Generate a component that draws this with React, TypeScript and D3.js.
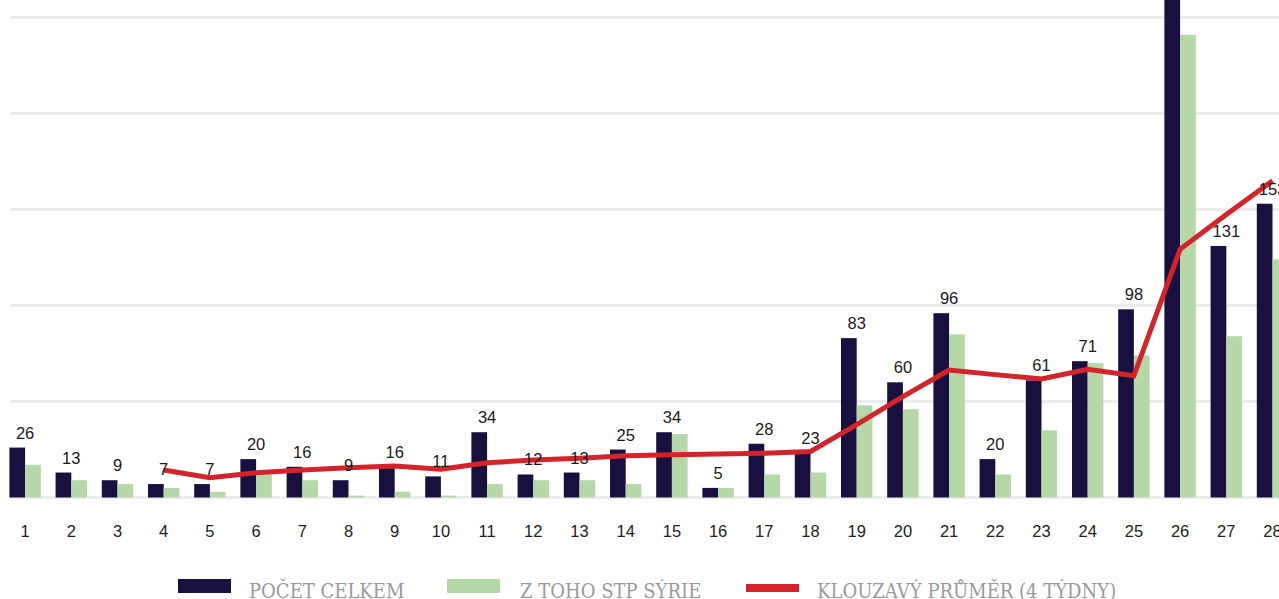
import React from 'react';
import * as d3 from 'd3';

// týdny
const weeks = [
    1, 2, 3, 4, 5, 6, 7, 8, 9, 10, 11, 12, 13, 14,
    15, 16, 17, 18, 19, 20, 21, 22, 23, 24, 25, 26, 27, 28,
];

// počet celkem
const totals = [
    26, 13, 9, 7, 7, 20, 16, 9, 16, 11, 34, 12, 13, 25,
    34, 5, 28, 23, 83, 60, 96, 20, 61, 71, 98, 290, 131, 153,
];

// z toho STP Sýrie
const syria = [
    17, 9, 7, 5, 3, 12, 9, 1, 3, 1, 7, 9, 9, 7,
    33, 5, 12, 13, 48, 46, 85, 12, 35, 70, 74, 241, 84, 124,
];

// klouzavý průměr (4 týdny), od 4. týdne
const avgWeeks = [4, 5, 6, 7, 8, 9, 10, 11, 12, 13, 14, 15, 16, 17, 18, 19, 20, 21, 22, 23, 24, 25, 26, 27, 28];
const avgValues = [
    14.3, 10.3, 12.9, 14.3, 15.5, 16.4, 14.7, 18.1, 19.5, 20.4, 21.8, 22.3, 22.7,
    23, 24, 38, 52.5, 66.4, 64, 61.7, 66.8, 63.4, 129.3, 147.4, 165,
];

const gridTicks = [0, 50, 100, 150, 200, 250];

const legendItems = [
    {label: 'POČET CELKEM', color: '#1a1040', kind: 'bar'},
    {label: 'Z TOHO STP SÝRIE', color: '#b6d7a8', kind: 'bar'},
    {label: 'KLOUZAVÝ PRŮMĚR (4 TÝDNY)', color: '#d4242b', kind: 'line'},
];

const W = 1279;
const H = 599;

export default function App() {
    const x = d3.scaleBand<number>()
        .domain(weeks)
        .range([2, 2 + 28 * 46.2])
        .paddingInner(0.32)
        .paddingOuter(0.16);

    const sub = d3.scaleBand<string>()
        .domain(['total', 'syria'])
        .range([0, x.bandwidth()]);

    const y = d3.scaleLinear().domain([0, 250]).range([497.5, 17.5]);

    const cx = (w: number) => (x(w) ?? 0) + x.bandwidth() / 2;

    const line = d3.line<number>()
        .x((_, i) => cx(avgWeeks[i]))
        .y(d => y(d));

    const legendX = [178, 447, 746];
    const legendTextX = [249, 520, 817];

    return (
        <svg width={W} height={H} style={{position: 'absolute', left: 0, top: 0}}>
            {/* mřížka */}
            {gridTicks.map(t => (
                <line key={t} x1={10} x2={W + 20} y1={y(t)} y2={y(t)}
                      stroke="#ececec" strokeWidth={3}/>
            ))}

            {/* sloupce */}
            {weeks.map((w, i) => (
                <g key={w} transform={`translate(${x(w)},0)`}>
                    <rect x={sub('total')} width={sub.bandwidth()}
                          y={y(totals[i])} height={y(0) - y(totals[i])} fill="#1a1040"/>
                    <rect x={sub('syria')} width={sub.bandwidth()}
                          y={y(syria[i])} height={y(0) - y(syria[i])} fill="#b6d7a8"/>
                </g>
            ))}

            {/* klouzavý průměr */}
            <path d={line(avgValues) ?? ''} fill="none" stroke="#d4242b" strokeWidth={5}
                  strokeLinejoin="miter"/>

            {/* popisky hodnot */}
            {weeks.map((w, i) => (
                <text key={w} x={cx(w)} y={y(totals[i]) - 9} textAnchor="middle"
                      fontFamily="'Liberation Sans', Arial, sans-serif" fontSize={16.5} fill="#1a1a1a">
                    {totals[i]}
                </text>
            ))}

            {/* osa x */}
            {weeks.map(w => (
                <text key={w} x={cx(w)} y={537} textAnchor="middle"
                      fontFamily="'Liberation Sans', Arial, sans-serif" fontSize={16.5} fill="#222">
                    {w}
                </text>
            ))}

            {/* legenda */}
            {legendItems.map((item, i) => (
                <g key={item.label}>
                    {item.kind === 'bar'
                        ? <rect x={legendX[i]} y={579} width={53} height={14} fill={item.color}/>
                        : <rect x={legendX[i]} y={584} width={53} height={8} fill={item.color}/>}
                    <text x={legendTextX[i]} y={598}
                          fontFamily="'DejaVu Serif Condensed', 'DejaVu Serif', serif"
                          fontSize={20} fill="#999">
                        {item.label}
                    </text>
                </g>
            ))}
        </svg>
    );
}
